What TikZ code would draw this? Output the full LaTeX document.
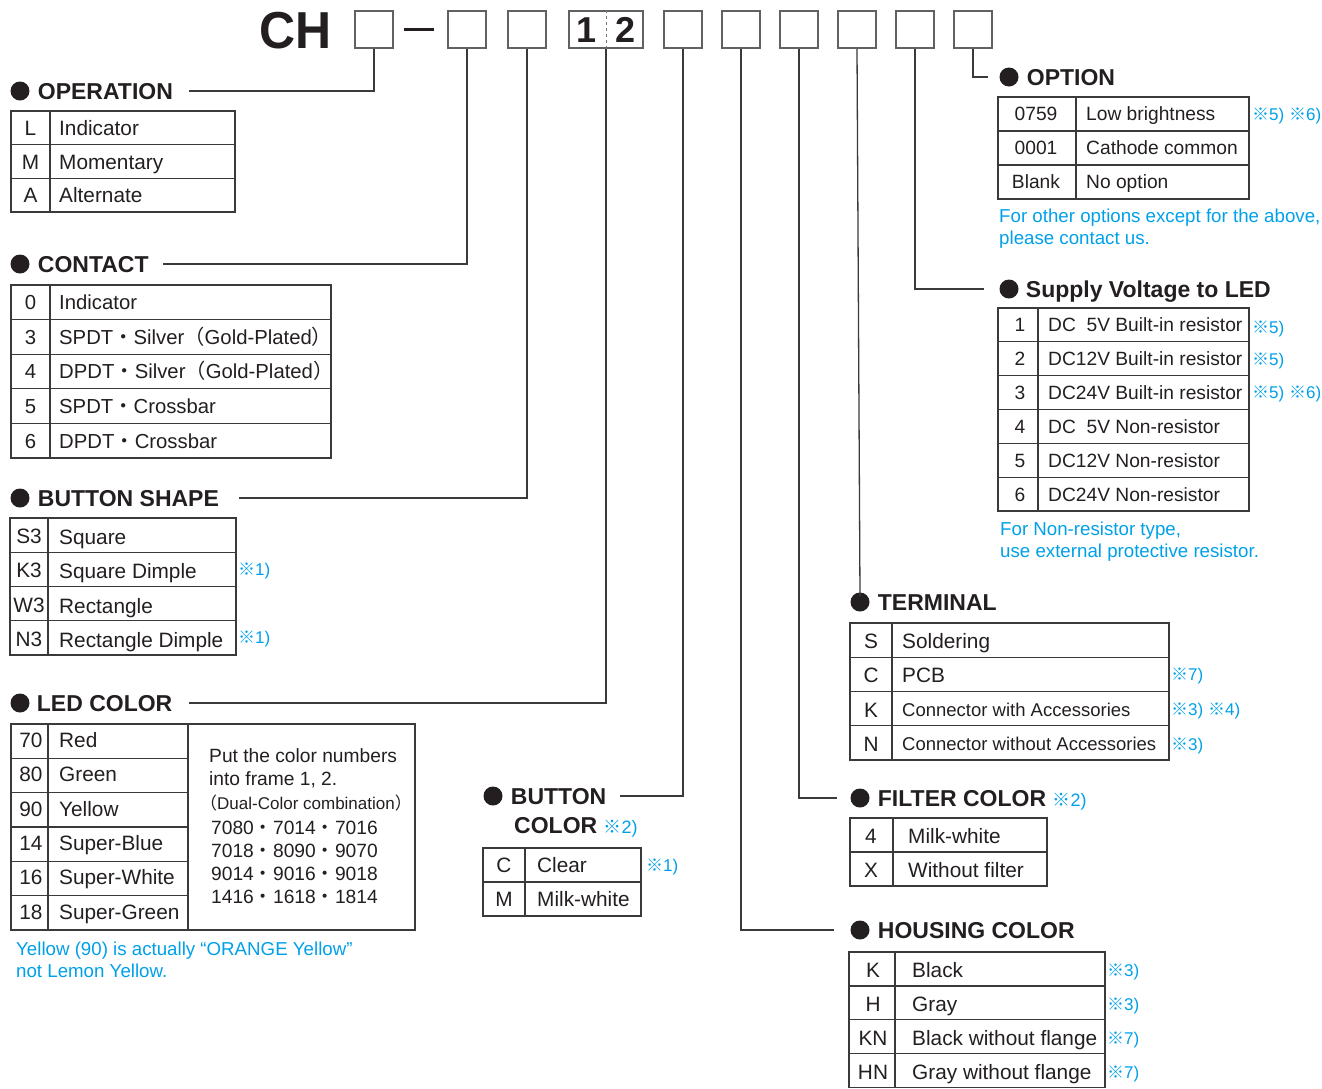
\documentclass[tikz,border=0pt]{standalone}
\usepackage{fontspec}
\setmainfont{Liberation Sans}
\newfontfamily\jpfont{Noto Sans CJK JP}
\usetikzlibrary{positioning,calc}
\definecolor{ink}{HTML}{231F20}
\definecolor{rule}{HTML}{3A3A3A}
\definecolor{noteblue}{HTML}{00A0E9}
\newcommand{\km}{{\jpfont ※}}
\newcommand{\dt}{{\jpfont ・}}

\begin{document}
\begin{tikzpicture}[x=1pt,y=-1pt,
  every node/.style={inner sep=0pt,text=ink},
  dot/.style={circle,fill=ink,minimum size=19pt},
  hd/.style={font=\fontsize{23}{25}\selectfont\bfseries,text height=16.5pt,text depth=0pt},
  cell/.style={font=\fontsize{20.8}{22}\selectfont,text height=15pt,text depth=0pt},
  cellct/.style={font=\fontsize{20.3}{22}\selectfont,text height=14.6pt,text depth=0pt},
  cellnar/.style={font=\fontsize{19.2}{22}\selectfont,text height=13.8pt,text depth=0pt},
  cellsm/.style={font=\fontsize{18.5}{22}\selectfont,text height=13.2pt,text depth=0pt},
  note/.style={font=\fontsize{18.7}{22}\selectfont,text=noteblue,anchor=north west,align=left},
  refmark/.style={font=\fontsize{17}{20}\selectfont,text=noteblue,anchor=west,text height=12pt,text depth=0pt},
  tbl/.style={draw=rule,line width=1.3pt},
  conn/.style={draw=rule,line width=1.3pt},
  frame/.style={draw=rule!80,line width=1.5pt,minimum width=38pt,minimum height=37pt}]
\useasboundingbox (0,0) rectangle (1322,1088);

% part number
\node[font=\fontsize{52}{56}\selectfont\bfseries,text height=37pt,text depth=0pt,xscale=0.96] (ch) at (296,30) {CH};
\node[frame] (b1) at (374,29.5) {};
\draw[ink,line width=3pt] (404,29) -- (434,29);
\node[frame] (b2) at (467,29.5) {};
\node[frame] (b3) at (527,29.5) {};
\node[frame,minimum width=74pt] (b12) at (606,29.5) {};
\draw[rule!70,dashed,line width=1pt] (b12.north) -- (b12.south);
\node[font=\fontsize{36}{40}\selectfont\bfseries,text height=26pt,text depth=0pt] (n1) at (587,29.5) {1};
\node[font=\fontsize{36}{40}\selectfont\bfseries,text height=26pt,text depth=0pt] (n2) at (626,29.5) {2};
\foreach \n/\x in {5/683,6/741,7/799,8/857,9/915,10/973}
  \node[frame] (b\n) at (\x,29.5) {};

% headings
\node[dot] (dOp) at (20,91) {};   \node[hd,right=8pt of dOp] (hOp) {OPERATION};
\node[dot] (dCt) at (20,264) {};  \node[hd,right=8pt of dCt] (hCt) {CONTACT};
\node[dot] (dBs) at (20,498) {};  \node[hd,right=8pt of dBs] (hBs) {BUTTON SHAPE};
\node[dot] (dLed) at (20,703) {}; \node[hd,right=7pt of dLed] (hLed) {LED COLOR};
\node[dot] (dBc) at (493,796) {}; \node[hd,right=8pt of dBc] (hBc) {BUTTON};
\node[hd,anchor=west] (hBc2) at (514,825) {COLOR \textcolor{noteblue}{\mdseries\fontsize{18}{20}\selectfont\km2)}};
\node[dot] (dTm) at (860,602) {}; \node[hd,right=8pt of dTm] (hTm) {TERMINAL};
\node[dot] (dFc) at (860,798) {}; \node[hd,right=8pt of dFc] (hFc) {FILTER COLOR \textcolor{noteblue}{\mdseries\fontsize{18}{20}\selectfont\km2)}};
\node[dot] (dHc) at (860,930) {}; \node[hd,right=8pt of dHc] (hHc) {HOUSING COLOR};
\node[dot] (dOpt) at (1009,77) {}; \node[hd,right=8pt of dOpt] (hOpt) {OPTION};
\node[dot] (dSv) at (1009,289) {}; \node[hd,right=7pt of dSv] (hSv) {Supply Voltage to LED};

% leader lines
\draw[conn] (b1.south) |- ([xshift=16pt]hOp.east);
\draw[conn] (b2.south) |- ([xshift=14pt]hCt.east);
\draw[conn] (b3.south) |- ([xshift=20pt]hBs.east);
\draw[conn] (b12.south) |- ([xshift=16pt]hLed.east);
\draw[conn] (b5.south) |- ([xshift=13pt]hBc.east);
\draw[conn] (b6.south) |- ([xshift=-16pt]dHc.west);
\draw[conn] (b7.south) |- ([xshift=-13pt]dFc.west);
\draw[conn] (b8.south) -- ([yshift=-4pt]dTm.north);
\draw[conn] (b9.south) |- ([xshift=-15pt]dSv.west);
\draw[conn] (b10.south) |- ([xshift=-11pt]dOpt.west);

% OPERATION
\foreach \c/\d [count=\i from 0] in {L/Indicator,M/Momentary,A/Alternate}{
  \draw[tbl] (11,111+\i*33.7) rectangle (235,144.7+\i*33.7);
  \draw[tbl] (50,111+\i*33.7) -- ++(0,33.7);
  \node[cell] (op-c\i) at (30.5,128+\i*33.7) {\c};
  \node[cell,anchor=west] (op-d\i) at (59,128+\i*33.7) {\d};
}

% CONTACT
\foreach \c/\d [count=\i from 0] in {0/Indicator,3/SPDT\dt Silver{\jpfont（}Gold-Plated{\jpfont）},
    4/DPDT\dt Silver{\jpfont（}Gold-Plated{\jpfont）},5/SPDT\dt Crossbar,6/DPDT\dt Crossbar}{
  \draw[tbl] (11,285+\i*34.6) rectangle (331,319.6+\i*34.6);
  \draw[tbl] (50,285+\i*34.6) -- ++(0,34.6);
  \node[cellct] (ct-c\i) at (30.5,302.3+\i*34.6) {\c};
  \node[cellct,anchor=west] (ct-d\i) at (59,302.3+\i*34.6) {\d};
}

% BUTTON SHAPE
\foreach \c/\d [count=\i from 0] in {S3/Square,K3/Square Dimple,W3/Rectangle,N3/Rectangle Dimple}{
  \draw[tbl] (10,518+\i*34.25) rectangle (236,552.25+\i*34.25);
  \draw[tbl] (48,518+\i*34.25) -- ++(0,34.25);
  \node[cell] (bs-c\i) at (29,536+\i*34.25) {\c};
  \node[cell,anchor=west] (bs-d\i) at (59,537+\i*34.25) {\d};
}
\node[refmark] (bs-n1) at (238,569) {\km1)};
\node[refmark] (bs-n3) at (238,637) {\km1)};

% LED COLOR
\foreach \c/\d [count=\i from 0] in {70/Red,80/Green,90/Yellow,14/Super-Blue,16/Super-White,18/Super-Green}{
  \draw[tbl] (11,724+\i*34.33) rectangle (188,758.33+\i*34.33);
  \draw[tbl] (48,724+\i*34.33) -- ++(0,34.33);
  \node[cell] (led-c\i) at (31,740+\i*34.33) {\c};
  \node[cell,anchor=west] (led-d\i) at (59,740+\i*34.33) {\d};
}
\draw[tbl] (188,724) rectangle (415,930);
\node[anchor=north west,align=left,font=\fontsize{19.2}{23}\selectfont] (led-txt) at (209,748)
  {Put the color numbers\\into frame 1, 2.\\[1pt]
   {\fontsize{17}{20}\selectfont\hspace*{-9pt}{\jpfont（}Dual-Color combination{\jpfont）}}\\[2pt]
   \hspace*{2pt}7080\dt 7014\dt 7016\\ \hspace*{2pt}7018\dt 8090\dt 9070\\
   \hspace*{2pt}9014\dt 9016\dt 9018\\ \hspace*{2pt}1416\dt 1618\dt 1814};
\node[note] (led-n) at (16,942) {Yellow (90) is actually “ORANGE Yellow”\\not Lemon Yellow.};

% BUTTON COLOR
\foreach \c/\d [count=\i from 0] in {C/Clear,M/Milk-white}{
  \draw[tbl] (483,848+\i*34) rectangle (641,882+\i*34);
  \draw[tbl] (525,848+\i*34) -- ++(0,34);
  \node[cell] (bc-c\i) at (504,865+\i*34) {\c};
  \node[cell,anchor=west] (bc-d\i) at (537,865+\i*34) {\d};
}
\node[refmark] (bc-n) at (646,865) {\km1)};

% TERMINAL
\foreach \c/\d/\s [count=\i from 0] in {S/Soldering/cell,C/PCB/cell,K/Connector with Accessories/cellsm,
    N/Connector without Accessories/cellsm}{
  \draw[tbl] (850,623+\i*34.25) rectangle (1169,657.25+\i*34.25);
  \draw[tbl] (892,623+\i*34.25) -- ++(0,34.25);
  \node[cell] (tm-c\i) at (871,641+\i*34.25) {\c};
  \node[\s,anchor=west] (tm-d\i) at (902,641+\i*34.25) {\d};
}
\node[refmark] (tm-n1) at (1171,674) {\km7)};
\node[refmark] (tm-n2) at (1171,709) {\km3) \km4)};
\node[refmark] (tm-n3) at (1171,744) {\km3)};

% FILTER COLOR
\foreach \c/\d [count=\i from 0] in {4/Milk-white,X/Without filter}{
  \draw[tbl] (850,818+\i*34) rectangle (1047,852+\i*34);
  \draw[tbl] (893,818+\i*34) -- ++(0,34);
  \node[cell] (fc-c\i) at (871,836+\i*34) {\c};
  \node[cell,anchor=west] (fc-d\i) at (908,836+\i*34) {\d};
}

% HOUSING COLOR
\foreach \c/\d/\m [count=\i from 0] in {K/Black/3,H/Gray/3,KN/Black without flange/7,HN/Gray without flange/7}{
  \draw[tbl] (849,952+\i*33.9) rectangle (1105,985.9+\i*33.9);
  \draw[tbl] (895,952+\i*33.9) -- ++(0,33.9);
  \node[cell] (hc-c\i) at (873,970+\i*33.9) {\c};
  \node[cell,anchor=west] (hc-d\i) at (912,970+\i*33.9) {\d};
  \node[refmark] (hc-n\i) at (1107,970+\i*34.2) {\km\m)};
}

% OPTION
\foreach \c/\d [count=\i from 0] in {0759/Low brightness,0001/Cathode common,Blank/No option}{
  \draw[tbl] (998,97+\i*34) rectangle (1249,131+\i*34);
  \draw[tbl] (1076,97+\i*34) -- ++(0,34);
  \node[cellnar] (opt-c\i) at (1036,114+\i*34) {\c};
  \node[cellnar,anchor=west] (opt-d\i) at (1086,114+\i*34) {\d};
}
\node[refmark] (opt-n) at (1252,114) {\km5) \km6)};
\node[note] (opt-txt) at (999,209) {For other options except for the above,\\please contact us.};

% SUPPLY VOLTAGE
\foreach \c/\d [count=\i from 0] in {1/DC\phantom{1}5V Built-in resistor,2/DC12V Built-in resistor,
    3/DC24V Built-in resistor,4/DC\phantom{1}5V Non-resistor,5/DC12V Non-resistor,6/DC24V Non-resistor}{
  \draw[tbl] (998,308+\i*33.83) rectangle (1249,341.83+\i*33.83);
  \draw[tbl] (1038,308+\i*33.83) -- ++(0,33.83);
  \node[cellnar] (sv-c\i) at (1020,325+\i*33.83) {\c};
  \node[cellnar,anchor=west] (sv-d\i) at (1048,325+\i*33.83) {\d};
}
\node[refmark] (sv-n1) at (1252,327) {\km5)};
\node[refmark] (sv-n2) at (1252,359) {\km5)};
\node[refmark] (sv-n3) at (1252,392) {\km5) \km6)};
\node[note] (sv-txt) at (1000,522) {For Non-resistor type,\\use external protective resistor.};
\end{tikzpicture}
\end{document}
